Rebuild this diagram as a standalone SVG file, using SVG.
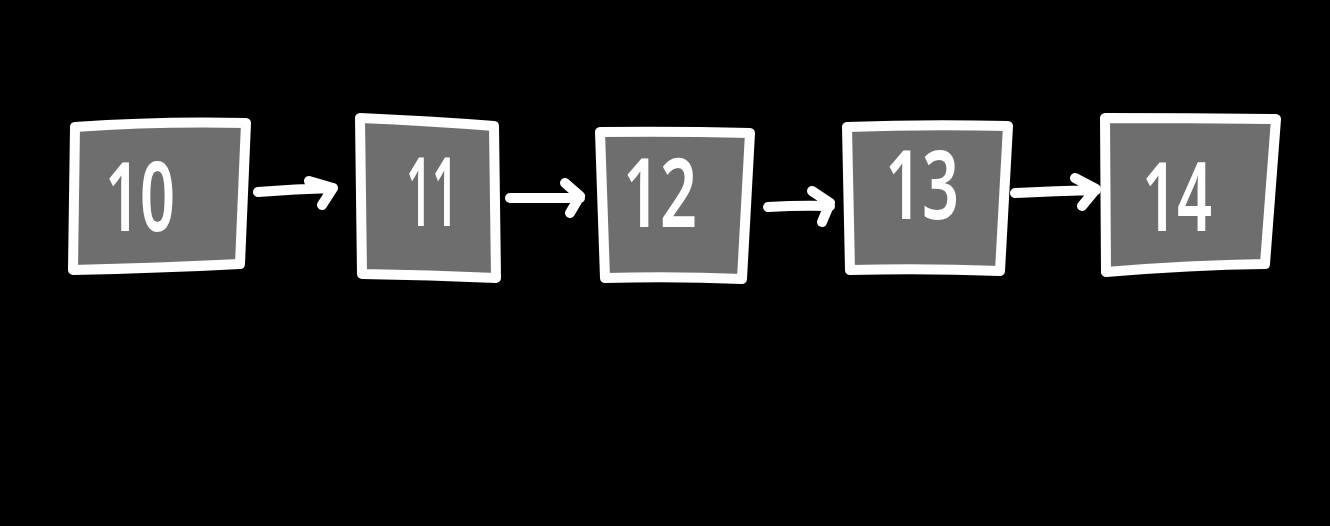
<svg xmlns="http://www.w3.org/2000/svg" width="1330" height="526" viewBox="0 0 1330 526">
<style>
.box{fill:#6e6e6e;stroke:#fff;stroke-width:10;stroke-linejoin:round;stroke-linecap:round}
.lbl{font-family:"Noto Sans","Liberation Sans",Arial,sans-serif;font-weight:600;font-size:96px;fill:#fff;text-anchor:middle}
.con{fill:none;stroke:#fff;stroke-width:10;stroke-linecap:round;stroke-linejoin:round}
</style>
<rect width="1330" height="526" fill="#000"/>
<g id="node-10">
<path class="box" d="M75,127 Q160,121 246,123 L240,264 Q160,268 73,270 Z"/>
<text class="lbl" x="140" y="231" textLength="70" lengthAdjust="spacingAndGlyphs">10</text>
</g>
<g id="node-11">
<path class="box" d="M360,118 Q430,121 494,126 L496,278 Q430,275 362,274 Z"/>
<text class="lbl" x="432" y="226" textLength="52" lengthAdjust="spacingAndGlyphs">11</text>
</g>
<g id="node-12">
<path class="box" d="M600,132 Q675,131 750,133 L742,279 Q675,276 605,278 Z"/>
<text class="lbl" x="660" y="227" textLength="74" lengthAdjust="spacingAndGlyphs">12</text>
</g>
<g id="node-13">
<path class="box" d="M847,127 Q925,124 1008,126 L1000,271 Q925,268 850,270 Z"/>
<text class="lbl" x="922" y="219" textLength="74" lengthAdjust="spacingAndGlyphs">13</text>
</g>
<g id="node-14">
<path class="box" d="M1105,118 Q1190,118 1276,119 L1265,264 Q1190,265 1106,272 Z"/>
<text class="lbl" x="1177" y="231" textLength="70" lengthAdjust="spacingAndGlyphs">14</text>
</g>
<g id="connectors">
<path class="con" d="M258,192 Q295,189 333,188 M309,181 L333,188 L322,205"/>
<path class="con" d="M510,198 L580,198 M565,183 L580,196 L570,213"/>
<path class="con" d="M768,207 Q800,205 830,206 M812,191 L830,203 L822,222"/>
<path class="con" d="M1015,193 Q1055,191 1096,190 M1075,178 L1096,189 L1082,206"/>
</g>
</svg>
